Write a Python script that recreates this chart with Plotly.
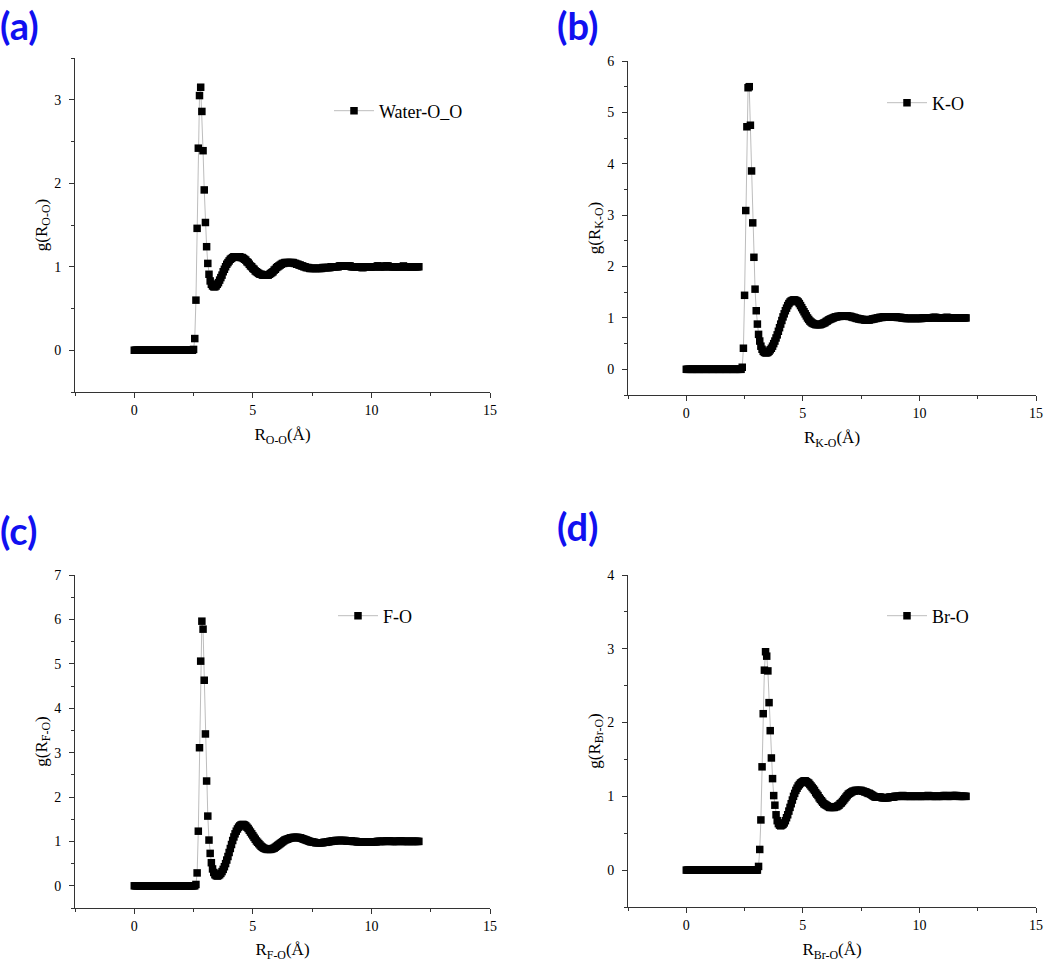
import plotly.graph_objects as go

# radial distance grid (Å), shared by all four RDFs
r_grid = [
    0.00, 0.05, 0.10, 0.15, 0.20, 0.25, 0.30, 0.35, 0.40, 0.45,
    0.50, 0.55, 0.60, 0.65, 0.70, 0.75, 0.80, 0.85, 0.90, 0.95,
    1.00, 1.05, 1.10, 1.15, 1.20, 1.25, 1.30, 1.35, 1.40, 1.45,
    1.50, 1.55, 1.60, 1.65, 1.70, 1.75, 1.80, 1.85, 1.90, 1.95,
    2.00, 2.05, 2.10, 2.15, 2.20, 2.25, 2.30, 2.35, 2.40, 2.45,
    2.50, 2.55, 2.60, 2.65, 2.70, 2.75, 2.80, 2.85, 2.90, 2.95,
    3.00, 3.05, 3.10, 3.15, 3.20, 3.25, 3.30, 3.35, 3.40, 3.45,
    3.50, 3.55, 3.60, 3.65, 3.70, 3.75, 3.80, 3.85, 3.90, 3.95,
    4.00, 4.05, 4.10, 4.15, 4.20, 4.25, 4.30, 4.35, 4.40, 4.45,
    4.50, 4.55, 4.60, 4.65, 4.70, 4.75, 4.80, 4.85, 4.90, 4.95,
    5.00, 5.05, 5.10, 5.15, 5.20, 5.25, 5.30, 5.35, 5.40, 5.45,
    5.50, 5.55, 5.60, 5.65, 5.70, 5.75, 5.80, 5.85, 5.90, 5.95,
    6.00, 6.05, 6.10, 6.15, 6.20, 6.25, 6.30, 6.35, 6.40, 6.45,
    6.50, 6.55, 6.60, 6.65, 6.70, 6.75, 6.80, 6.85, 6.90, 6.95,
    7.00, 7.05, 7.10, 7.15, 7.20, 7.25, 7.30, 7.35, 7.40, 7.45,
    7.50, 7.55, 7.60, 7.65, 7.70, 7.75, 7.80, 7.85, 7.90, 7.95,
    8.00, 8.05, 8.10, 8.15, 8.20, 8.25, 8.30, 8.35, 8.40, 8.45,
    8.50, 8.55, 8.60, 8.65, 8.70, 8.75, 8.80, 8.85, 8.90, 8.95,
    9.00, 9.05, 9.10, 9.15, 9.20, 9.25, 9.30, 9.35, 9.40, 9.45,
    9.50, 9.55, 9.60, 9.65, 9.70, 9.75, 9.80, 9.85, 9.90, 9.95,
    10.00, 10.05, 10.10, 10.15, 10.20, 10.25, 10.30, 10.35, 10.40, 10.45,
    10.50, 10.55, 10.60, 10.65, 10.70, 10.75, 10.80, 10.85, 10.90, 10.95,
    11.00, 11.05, 11.10, 11.15, 11.20, 11.25, 11.30, 11.35, 11.40, 11.45,
    11.50, 11.55, 11.60, 11.65, 11.70, 11.75, 11.80, 11.85, 11.90, 11.95,
    12.00,
]

# (a) water O-O
g_oo = [
    0, 0, 0, 0, 0, 0, 0, 0, 0, 0,
    0, 0, 0, 0, 0, 0, 0, 0, 0, 0,
    0, 0, 0, 0, 0, 0, 0, 0, 0, 0,
    0, 0, 0, 0, 0, 0, 0, 0, 0, 0,
    0, 0, 0, 0, 0, 0, 0, 0, 0, 0,
    0.01, 0.14, 0.60, 1.46, 2.42, 3.05, 3.15, 2.86, 2.39, 1.92,
    1.53, 1.24, 1.04, 0.91, 0.83, 0.79, 0.77, 0.76, 0.76, 0.77,
    0.79, 0.81, 0.84, 0.87, 0.90, 0.94, 0.97, 1.00, 1.03, 1.05,
    1.07, 1.09, 1.10, 1.11, 1.12, 1.12, 1.12, 1.12, 1.12, 1.12,
    1.11, 1.11, 1.10, 1.09, 1.08, 1.06, 1.05, 1.03, 1.01, 1.00,
    0.98, 0.97, 0.95, 0.94, 0.93, 0.92, 0.91, 0.91, 0.90, 0.90,
    0.90, 0.90, 0.90, 0.90, 0.91, 0.92, 0.93, 0.94, 0.96, 0.97,
    0.99, 1.00, 1.01, 1.02, 1.03, 1.04, 1.04, 1.05, 1.05, 1.05,
    1.05, 1.05, 1.05, 1.05, 1.05, 1.04, 1.04, 1.03, 1.03, 1.02,
    1.02, 1.01, 1.01, 1.00, 1.00, 0.99, 0.99, 0.99, 0.98, 0.98,
    0.98, 0.98, 0.98, 0.98, 0.98, 0.98, 0.98, 0.98, 0.98, 0.99,
    0.99, 0.99, 0.99, 0.99, 0.99, 0.99, 1.00, 1.00, 1.00, 1.00,
    1.00, 1.00, 1.00, 1.01, 1.01, 1.01, 1.01, 1.01, 1.01, 1.01,
    1.01, 1.01, 1.01, 1.00, 1.00, 1.00, 1.00, 1.00, 1.00, 1.00,
    1.00, 1.00, 0.99, 0.99, 1.00, 1.00, 1.00, 1.00, 1.00, 1.00,
    1.00, 1.00, 1.00, 1.00, 1.00, 1.01, 1.01, 1.00, 1.00, 1.00,
    1.00, 1.00, 1.01, 1.01, 1.01, 1.00, 1.00, 1.00, 1.00, 1.00,
    1.00, 1.00, 1.00, 1.00, 1.00, 1.00, 1.00, 1.01, 1.00, 1.00,
    1.00, 1.00, 1.00, 1.00, 1.00, 1.00, 1.00, 1.00, 1.00, 1.00,
    1.00,
]

# (b) K-O
g_ko = [
    0, 0, 0, 0, 0, 0, 0, 0, 0, 0,
    0, 0, 0, 0, 0, 0, 0, 0, 0, 0,
    0, 0, 0, 0, 0, 0, 0, 0, 0, 0,
    0, 0, 0, 0, 0, 0, 0, 0, 0, 0,
    0, 0, 0, 0, 0, 0, 0, 0, 0.04, 0.41,
    1.44, 3.09, 4.72, 5.48, 5.50, 4.75, 3.86, 2.85, 2.18, 1.56,
    1.14, 0.88, 0.68, 0.55, 0.45, 0.39, 0.35, 0.33, 0.32, 0.32,
    0.33, 0.35, 0.38, 0.41, 0.45, 0.50, 0.55, 0.61, 0.67, 0.74,
    0.81, 0.88, 0.95, 1.02, 1.08, 1.14, 1.19, 1.24, 1.28, 1.31,
    1.33, 1.34, 1.35, 1.35, 1.34, 1.33, 1.31, 1.28, 1.24, 1.20,
    1.16, 1.12, 1.08, 1.04, 1.00, 0.97, 0.94, 0.92, 0.90, 0.89,
    0.88, 0.87, 0.87, 0.87, 0.87, 0.87, 0.88, 0.89, 0.90, 0.91,
    0.93, 0.94, 0.96, 0.97, 0.98, 0.99, 1.00, 1.01, 1.02, 1.02,
    1.03, 1.03, 1.03, 1.04, 1.04, 1.04, 1.04, 1.04, 1.04, 1.03,
    1.03, 1.03, 1.02, 1.01, 1.01, 1.00, 0.99, 0.99, 0.98, 0.98,
    0.97, 0.97, 0.97, 0.96, 0.96, 0.96, 0.96, 0.96, 0.97, 0.97,
    0.98, 0.98, 0.99, 0.99, 1.00, 1.00, 1.01, 1.01, 1.01, 1.02,
    1.02, 1.02, 1.02, 1.02, 1.02, 1.02, 1.02, 1.02, 1.02, 1.02,
    1.02, 1.01, 1.01, 1.01, 1.01, 1.00, 1.00, 1.00, 0.99, 0.99,
    0.99, 0.99, 0.99, 0.99, 0.99, 0.99, 0.99, 0.99, 0.99, 0.99,
    0.99, 0.99, 0.99, 1.00, 1.00, 1.00, 1.00, 1.00, 1.00, 1.00,
    1.00, 1.00, 1.01, 1.01, 1.01, 1.00, 1.00, 1.00, 1.00, 1.00,
    1.00, 1.00, 1.00, 1.01, 1.01, 1.00, 1.00, 1.00, 1.00, 1.00,
    1.00, 1.00, 1.00, 1.00, 1.00, 1.00, 1.00, 1.00, 1.00, 1.00,
    1.00,
]

# (c) F-O
g_fo = [
    0, 0, 0, 0, 0, 0, 0, 0, 0, 0,
    0, 0, 0, 0, 0, 0, 0, 0, 0, 0,
    0, 0, 0, 0, 0, 0, 0, 0, 0, 0,
    0, 0, 0, 0, 0, 0, 0, 0, 0, 0,
    0, 0, 0, 0, 0, 0, 0, 0, 0, 0,
    0, 0, 0.03, 0.29, 1.23, 3.11, 5.06, 5.96, 5.78, 4.63,
    3.42, 2.36, 1.57, 1.03, 0.73, 0.52, 0.38, 0.30, 0.25, 0.23,
    0.22, 0.23, 0.25, 0.28, 0.32, 0.37, 0.43, 0.50, 0.58, 0.66,
    0.75, 0.84, 0.93, 1.02, 1.10, 1.17, 1.23, 1.28, 1.32, 1.35,
    1.37, 1.38, 1.38, 1.37, 1.35, 1.32, 1.29, 1.25, 1.21, 1.17,
    1.13, 1.09, 1.05, 1.01, 0.98, 0.95, 0.92, 0.89, 0.87, 0.85,
    0.84, 0.83, 0.82, 0.82, 0.82, 0.82, 0.83, 0.84, 0.85, 0.87,
    0.89, 0.91, 0.93, 0.95, 0.97, 0.99, 1.01, 1.03, 1.04, 1.05,
    1.06, 1.07, 1.08, 1.08, 1.09, 1.09, 1.09, 1.09, 1.09, 1.08,
    1.08, 1.07, 1.06, 1.05, 1.04, 1.03, 1.02, 1.01, 1.00, 0.99,
    0.99, 0.98, 0.98, 0.97, 0.97, 0.97, 0.97, 0.97, 0.97, 0.97,
    0.98, 0.98, 0.98, 0.99, 0.99, 1.00, 1.00, 1.01, 1.01, 1.01,
    1.02, 1.02, 1.02, 1.02, 1.02, 1.02, 1.02, 1.02, 1.02, 1.01,
    1.01, 1.01, 1.01, 1.01, 1.00, 1.00, 1.00, 1.00, 0.99, 0.99,
    0.99, 0.99, 0.99, 0.99, 0.99, 0.99, 0.99, 0.99, 0.99, 0.99,
    0.99, 0.99, 0.99, 0.99, 0.99, 1.00, 1.00, 1.00, 1.00, 1.00,
    1.00, 1.00, 1.00, 1.01, 1.01, 1.01, 1.00, 1.00, 1.00, 1.00,
    1.00, 1.00, 1.00, 1.00, 1.01, 1.01, 1.00, 1.00, 1.00, 1.00,
    1.00, 1.00, 1.00, 1.00, 1.00, 1.00, 1.00, 1.00, 1.00, 1.00,
    1.00,
]

# (d) Br-O
g_bro = [
    0, 0, 0, 0, 0, 0, 0, 0, 0, 0,
    0, 0, 0, 0, 0, 0, 0, 0, 0, 0,
    0, 0, 0, 0, 0, 0, 0, 0, 0, 0,
    0, 0, 0, 0, 0, 0, 0, 0, 0, 0,
    0, 0, 0, 0, 0, 0, 0, 0, 0, 0,
    0, 0, 0, 0, 0, 0, 0, 0, 0, 0,
    0, 0, 0.05, 0.28, 0.68, 1.40, 2.12, 2.71, 2.96, 2.90,
    2.70, 2.27, 1.89, 1.52, 1.24, 1.01, 0.88, 0.75, 0.67, 0.63,
    0.61, 0.60, 0.61, 0.62, 0.64, 0.67, 0.71, 0.75, 0.80, 0.85,
    0.90, 0.95, 1.00, 1.04, 1.08, 1.11, 1.14, 1.16, 1.18, 1.19,
    1.20, 1.21, 1.21, 1.20, 1.19, 1.18, 1.16, 1.14, 1.12, 1.10,
    1.08, 1.05, 1.03, 1.01, 0.98, 0.96, 0.94, 0.92, 0.90, 0.89,
    0.88, 0.87, 0.86, 0.85, 0.85, 0.85, 0.85, 0.85, 0.86, 0.86,
    0.87, 0.88, 0.90, 0.91, 0.93, 0.95, 0.97, 0.99, 1.01, 1.03,
    1.04, 1.05, 1.06, 1.07, 1.07, 1.08, 1.08, 1.08, 1.08, 1.08,
    1.08, 1.07, 1.07, 1.06, 1.06, 1.05, 1.04, 1.04, 1.03, 1.02,
    1.01, 1.00, 0.99, 0.99, 0.99, 0.99, 0.99, 0.99, 0.98, 0.98,
    0.98, 0.98, 0.98, 0.98, 0.99, 0.99, 0.99, 0.99, 0.99, 1.00,
    1.00, 1.00, 1.00, 1.00, 1.00, 1.01, 1.01, 1.00, 1.00, 1.00,
    1.00, 1.00, 1.00, 1.00, 1.00, 1.00, 1.00, 1.00, 1.00, 1.00,
    1.00, 1.00, 1.00, 1.00, 1.00, 1.00, 1.00, 1.01, 1.01, 1.00,
    1.00, 1.00, 1.00, 1.00, 1.00, 1.00, 1.00, 1.00, 1.00, 1.00,
    1.00, 1.01, 1.01, 1.01, 1.00, 1.00, 1.00, 1.00, 1.01, 1.01,
    1.01, 1.01, 1.01, 1.00, 1.00, 1.00, 1.00, 1.00, 1.00, 1.00,
    1.00,
]

series_names = ['Water-O_O', 'K-O', 'F-O', 'Br-O']
pair_labels = ['O-O', 'K-O', 'F-O', 'Br-O']
panel_tags = ['(a)', '(b)', '(c)', '(d)']
y_tops = [3.5, 6, 7, 4]

W, H = 1052, 962

# panel boxes in pixels: left, right, top, bottom
boxes = [
    (75, 490, 58, 392),
    (628, 1036, 61, 395),
    (75, 490, 575, 908),
    (628, 1036, 575, 907),
]
# legend anchor (pixel) and panel tag position (pixel)
legend_pos = [(329, 111), (882, 103), (333, 616), (882, 616)]
tag_pos = [(-2, 0), (555, 0), (-2, 505), (555, 501)]

serif = 'Liberation Serif'
fig = go.Figure()

all_y = [g_oo, g_ko, g_fo, g_bro]
for i in range(4):
    n = '' if i == 0 else str(i + 1)
    leg = 'legend' + n
    fig.add_trace(go.Scatter(
        x=r_grid, y=all_y[i],
        mode='lines+markers',
        name=series_names[i],
        line=dict(color='#bdbdbd', width=1),
        marker=dict(symbol='square', size=7.5, color='black'),
        xaxis='x' + n, yaxis='y' + n,
        legend=leg,
    ))

    l, r, t, b = boxes[i]
    ax = dict(
        showline=True, linecolor='#333', linewidth=1,
        ticks='outside', ticklen=5, tickwidth=1, tickcolor='#333',
        showgrid=False, zeroline=False, automargin=False,
        tickfont=dict(family=serif, size=14, color='black'),
        minor=dict(ticks='outside', ticklen=3, tickcolor='#333', showgrid=False),
        mirror=False,
    )
    xa = dict(ax, domain=[l / W, r / W], range=[-2.5, 15], dtick=5,
              anchor='y' + n, ticklabelstandoff=0,
              title=dict(text='R<sub>' + pair_labels[i] + '</sub>(Å)',
                         font=dict(family=serif, size=17, color='black'),
                         standoff=11))
    xa['minor'] = dict(ax['minor'], dtick=2.5)
    ya = dict(ax, domain=[1 - b / H, 1 - t / H], range=[-0.5, y_tops[i]], dtick=1,
              anchor='x' + n, ticklabelstandoff=5,
              title=dict(text='g(R<sub>' + pair_labels[i] + '</sub>)',
                         font=dict(family=serif, size=17, color='black'),
                         standoff=2))
    ya['minor'] = dict(ax['minor'], dtick=0.5)
    fig.layout['xaxis' + n] = xa
    fig.layout['yaxis' + n] = ya

    lx, ly = legend_pos[i]
    fig.layout[leg] = dict(
        x=lx / W, y=1 - ly / H, xanchor='left', yanchor='middle',
        bgcolor='rgba(0,0,0,0)', borderwidth=0, itemwidth=40,
        font=dict(family=serif, size=18, color='black'),
    )

    tx, ty = tag_pos[i]
    fig.add_annotation(
        text='<b>' + panel_tags[i] + '</b>',
        xref='paper', yref='paper', x=tx / W, y=1 - ty / H,
        xanchor='left', yanchor='top', showarrow=False,
        font=dict(family='Lato', size=38, color='#1010f0'),
    )

fig.update_layout(
    width=W, height=H,
    margin=dict(l=0, r=0, t=0, b=0),
    paper_bgcolor='white', plot_bgcolor='white',
    showlegend=True,
)

# the page body has a default 8px margin; drop it so the figure fills the window
fig.write_html('out.html', config={'displayModeBar': False},
               post_script="document.body.style.margin='0';document.body.style.overflow='hidden';")
